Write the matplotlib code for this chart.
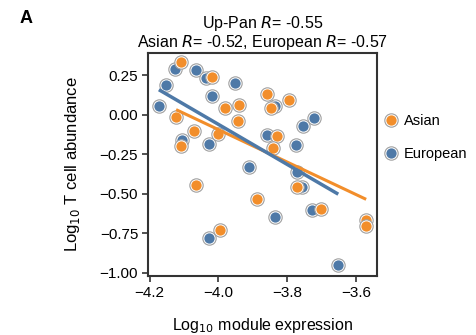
import numpy as np
import matplotlib
matplotlib.use('Agg')
import matplotlib.pyplot as plt
from matplotlib.lines import Line2D

plt.rcParams['font.family'] = ['Liberation Sans', 'DejaVu Sans']

# Asian samples (log10 module expression, log10 T cell abundance)
asian_x = [-4.110, -4.020, -3.859, -3.796, -3.847, -3.980, -3.939, -4.123, -3.944,
           -4.072, -4.002, -3.829, -4.110, -3.841, -3.772, -4.065, -3.888, -3.703,
           -3.571, -3.571, -3.996]
asian_y = [0.330, 0.238, 0.133, 0.095, 0.044, 0.044, 0.059, -0.015, -0.038,
           -0.103, -0.122, -0.134, -0.200, -0.208, -0.456, -0.446, -0.530, -0.595,
           -0.669, -0.705, -0.726]

# European samples
euro_x = [-4.127, -4.065, -4.035, -3.953, -4.152, -4.018, -3.835, -4.173, -3.723,
          -3.753, -3.859, -4.106, -4.028, -3.776, -3.910, -3.772, -3.757, -3.727,
          -3.835, -4.028, -3.652]
euro_y = [0.289, 0.280, 0.234, 0.198, 0.188, 0.116, 0.052, 0.057, -0.021,
          -0.071, -0.128, -0.158, -0.188, -0.191, -0.328, -0.362, -0.456, -0.600,
          -0.646, -0.781, -0.953]

groups = ['European', 'Asian']
colours = {'Asian': '#F28E2B', 'European': '#4E79A7'}
data = {'Asian': (asian_x, asian_y), 'European': (euro_x, euro_y)}

xticks = [-4.2, -4.0, -3.8, -3.6]
yticks = [0.25, 0.00, -0.25, -0.50, -0.75, -1.00]

RING_MS, DOT_MS = 9.6, 7.4

fig = plt.figure(figsize=(4.77, 3.35), dpi=100)
ax = fig.add_axes([0.310, 0.176, 0.480, 0.666])

z = 2
for g in groups:
    xs, ys = data[g]
    for x, y in zip(xs, ys):
        ax.plot(x, y, 'o', ms=RING_MS, mfc='white', mec='#a0a0a0', mew=0.8, zorder=z)
        ax.plot(x, y, 'o', ms=DOT_MS, mfc=colours[g], mew=0.0, zorder=z + 0.5)
        z += 1

# regression lines
for g, lw in [('Asian', 2.2), ('European', 2.5)]:
    xs, ys = np.array(data[g][0]), np.array(data[g][1])
    k, b = np.polyfit(xs, ys, 1)
    xx = np.array([xs.min(), xs.max()])
    ax.plot(xx, k * xx + b, color=colours[g], lw=lw, zorder=200, solid_capstyle='butt')

ax.set_xlim(-4.205, -3.54)
ax.set_ylim(-1.02, 0.39)
ax.set_xticks(xticks)
ax.set_xticklabels(['\u2212%.1f' % abs(t) for t in xticks])
ax.set_yticks(yticks)
ax.set_yticklabels([('\u2212' if t < 0 else '') + '%.2f' % abs(t) for t in yticks])
ax.tick_params(labelsize=11, length=4, width=1.2, color='#333333', pad=3)
for s in ax.spines.values():
    s.set_color('#333333')
    s.set_linewidth(1.5)

ax.set_xlabel('Log$_{10}$ module expression', fontsize=11.5, labelpad=12)
ax.set_ylabel('Log$_{10}$ T cell abundance', fontsize=12, labelpad=13)
ax.set_title('Up-Pan $R$= -0.55\nAsian $R$= -0.52, European $R$= -0.57',
             fontsize=11.5, linespacing=1.0, pad=4)
fig.text(0.04, 0.93, 'A', fontsize=13, fontweight='bold')

handles = []
for g in ['Asian', 'European']:
    ring = Line2D([], [], ls='', marker='o', ms=RING_MS, mfc='white', mec='#a0a0a0', mew=0.8)
    dot = Line2D([], [], ls='', marker='o', ms=DOT_MS, mfc=colours[g], mew=0)
    handles.append((ring, dot))
ax.legend(handles, ['Asian', 'European'], loc='upper left', bbox_to_anchor=(1.0, 0.755),
          frameon=False, fontsize=10.5, labelspacing=1.27, handletextpad=0.38,
          handlelength=1.0, borderaxespad=0.05)

fig.savefig('out.png', dpi=100)
